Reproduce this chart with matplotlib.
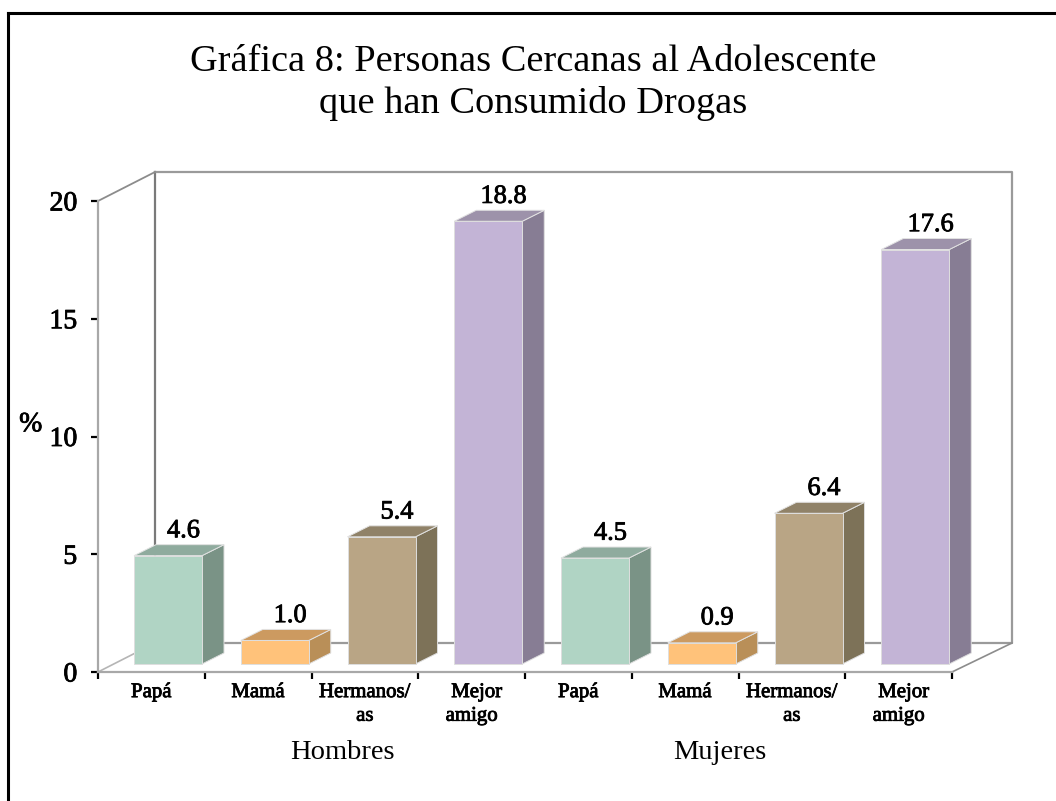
#!/usr/bin/env python3
"""Gráfica 8: barras con falso 3D, caras dibujadas como polígonos."""
import matplotlib
matplotlib.use("Agg")
import matplotlib.pyplot as plt
import matplotlib.patheffects as pe
from matplotlib.lines import Line2D

plt.rcParams["font.family"] = ["Liberation Serif", "DejaVu Serif"]

TITLE = "Gráfica 8: Personas Cercanas al Adolescente\nque han Consumido Drogas"
CATEGORIES = ["Papá", "Mamá", "Hermanos/\nas", "  Mejor\namigo",
              "Papá", "Mamá", "Hermanos/\nas", "  Mejor\namigo"]
VALUES = [4.6, 1.0, 5.4, 18.8, 4.5, 0.9, 6.4, 17.6]
GROUPS = ["Hombres", "Mujeres"]
Y_TICKS = [0, 5, 10, 15, 20]

# cara frontal, tapa, lateral
COLORS = [("#b0d4c4", "#8fab9e", "#7a9386"),
          ("#ffc27a", "#cc9a60", "#b98f58"),
          ("#b9a585", "#908268", "#7d7258"),
          ("#c3b4d6", "#9d92aa", "#877d94")]

W, H = 1056, 801
AX_L, AX_R, AX_T, AX_B = 98, 952, 201, 672
PX_X = (AX_R - AX_L) / 8
PX_Y = (AX_B - AX_T) / 20

# profundidad de la pared y de las barras, en unidades de datos
WALL_DX, WALL_DX_R, WALL_DY = 57 / PX_X, 60 / PX_X, 29 / PX_Y
BAR_DX, BAR_DY = 22 / PX_X, 11 / PX_Y
BAR_X0, BAR_W, BAR_Y0 = 36 / PX_X, 68 / PX_X, 8 / PX_Y

# trazo fino para dar a los textos un peso intermedio
SEMI = [pe.withStroke(linewidth=0.6, foreground="black")]


def main():
    fig = plt.figure(figsize=(W / 100, H / 100), dpi=100)
    ax = fig.add_axes([AX_L / W, 1 - AX_B / H, (AX_R - AX_L) / W, (AX_B - AX_T) / H])
    ax.set_xlim(0, 8)
    ax.set_ylim(0, 20)

    # paredes del fondo
    wall = dict(color="#8c8c8c", lw=1.6, clip_on=False, zorder=1)
    x1, y1 = 8 + WALL_DX_R, 20 + WALL_DY
    ax.plot([WALL_DX, WALL_DX], [WALL_DY, y1], **{**wall, "color": "#7a7a7a"})
    ax.plot([WALL_DX, x1, x1, WALL_DX], [y1, y1, WALL_DY, WALL_DY],
            **{**wall, "color": "#9a9a9a"})
    ax.plot([0, WALL_DX], [20, y1], **{**wall, "lw": 1.3})
    ax.plot([0, WALL_DX], [0, WALL_DY], **{**wall, "color": "#b5b5b5", "lw": 1.2})
    ax.plot([8, x1], [0, WALL_DY], **{**wall, "lw": 1.2})

    for i, v in enumerate(VALUES):
        front, top, side = COLORS[i % 4]
        x0 = i + BAR_X0
        xe = x0 + BAR_W
        y0, ye = BAR_Y0, BAR_Y0 + v
        edge = dict(lw=0.7, clip_on=False, zorder=3)
        ax.fill([xe, xe + BAR_DX, xe + BAR_DX, xe],
                [y0, y0 + BAR_DY, ye + BAR_DY, ye],
                fc=side, ec="#dedede", **edge)
        ax.fill([x0, x0 + BAR_DX, xe + BAR_DX, xe],
                [ye, ye + BAR_DY, ye + BAR_DY, ye],
                fc=top, ec="#e2e2e2", **edge)
        ax.fill([x0, xe, xe, x0], [y0, y0, ye, ye],
                fc=front, ec="#dedede", **edge)
        ax.text(i + 0.8, ye + BAR_DY + 0.1, f"{v:.1f}", ha="center", va="bottom",
                fontsize=19, color="black", zorder=4, path_effects=SEMI)

    for s in ("top", "right"):
        ax.spines[s].set_visible(False)
    for s in ("left", "bottom"):
        ax.spines[s].set_color("#a8a8a8")
        ax.spines[s].set_linewidth(1.6)
    ax.patch.set_alpha(0)

    ax.set_yticks(Y_TICKS)
    ax.set_yticklabels([str(t) for t in Y_TICKS], fontsize=20, path_effects=SEMI)
    ax.tick_params(axis="y", length=5, width=1.6, color="black", pad=10)
    ax.set_xticks(range(9))
    ax.set_xticklabels([])
    ax.tick_params(axis="x", which="major", length=5, width=1.6, color="black")
    ax.set_xticks([i + 0.5 for i in range(8)], minor=True)
    ax.set_xticklabels(CATEGORIES, minor=True, fontsize=15, linespacing=1.33,
                       va="top", path_effects=SEMI)
    ax.tick_params(axis="x", which="minor", length=0, pad=8)

    ax.text(-0.63, 10.5, "%", ha="center", va="center", fontsize=20, path_effects=SEMI)
    for cx, g in zip((2.29, 5.82), GROUPS):
        ax.text(cx, -3.4, g, ha="center", va="center", fontsize=20.5)

    fig.text(533 / W, 1 - 82.5 / H, TITLE, ha="center", va="center",
             fontsize=27.6, linespacing=1.27, color="black")

    # marco exterior: solo izquierda y arriba llegan a verse
    for xs, ys in (((7.5, 7.5), (13, H)), ((7.5, W), (13, 13))):
        fig.add_artist(Line2D([x / W for x in xs], [1 - y / H for y in ys],
                              color="black", lw=2.2))

    fig.savefig("out.png", dpi=100)


if __name__ == "__main__":
    main()
